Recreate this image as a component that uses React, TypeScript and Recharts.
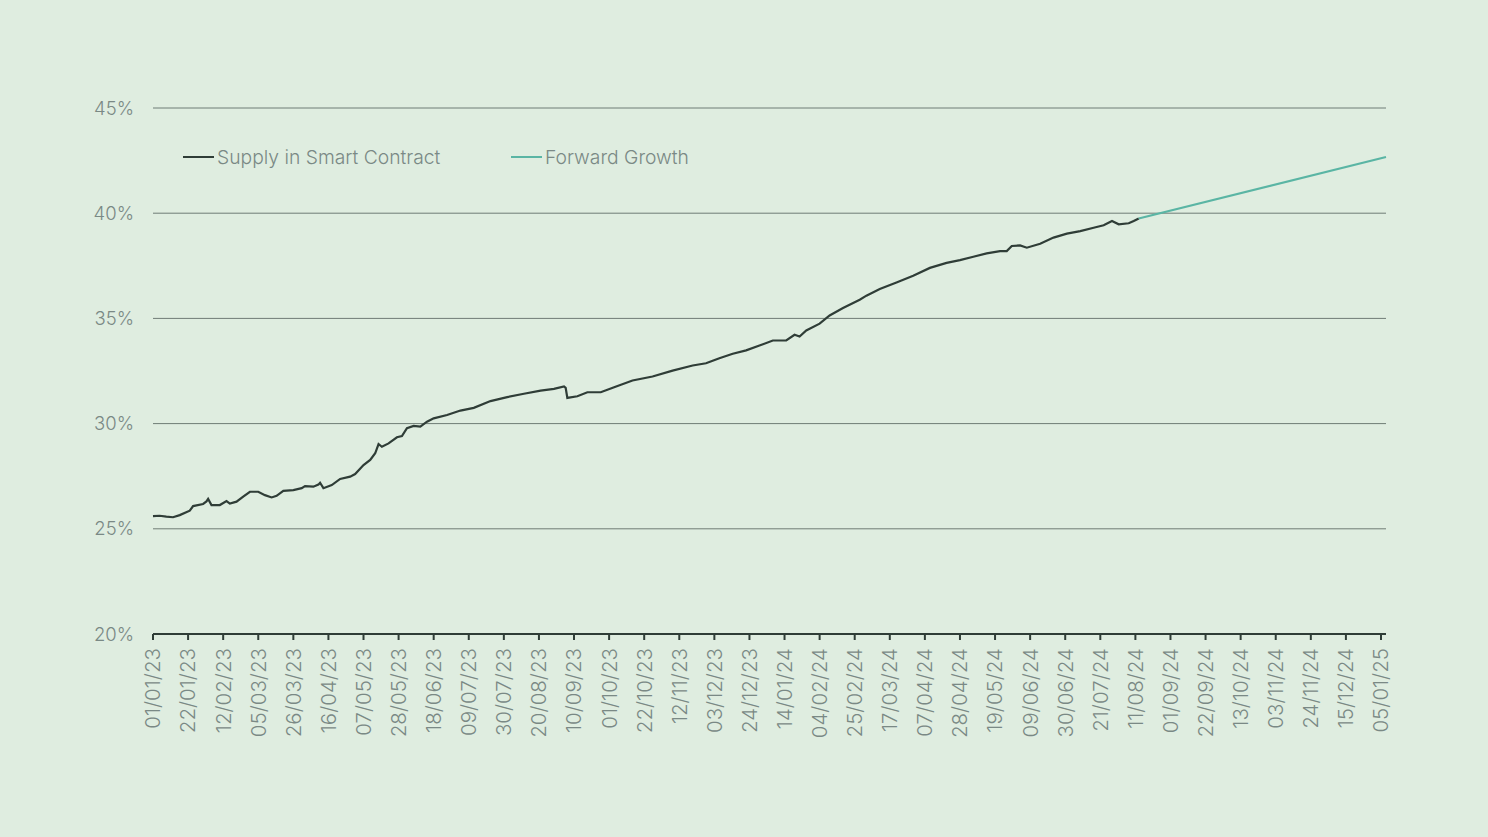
import React from 'react';
import { LineChart, Line, XAxis, YAxis, CartesianGrid } from 'recharts';

if (typeof document !== 'undefined') {
  document.body.style.margin = '0';
  document.body.style.background = '#dfede0';
}

const tickLabels = [
  '01/01/23', '22/01/23', '12/02/23', '05/03/23', '26/03/23', '16/04/23', '07/05/23', '28/05/23',
  '18/06/23', '09/07/23', '30/07/23', '20/08/23', '10/09/23', '01/10/23', '22/10/23', '12/11/23',
  '03/12/23', '24/12/23', '14/01/24', '04/02/24', '25/02/24', '17/03/24', '07/04/24', '28/04/24',
  '19/05/24', '09/06/24', '30/06/24', '21/07/24', '11/08/24', '01/09/24', '22/09/24', '13/10/24',
  '03/11/24', '24/11/24', '15/12/24', '05/01/25',
];

const yTicks = [20, 25, 30, 35, 40, 45];

// days since 01/01/23
const supplyDays = [
  0, 4, 8, 12, 16, 22, 24, 30, 32, 33, 35, 40, 44, 46, 50, 54, 58, 63, 67, 71, 74, 78, 84, 89, 91, 96,
  99, 100, 102, 107, 112, 118, 121, 126, 130, 133, 135, 137, 141, 146, 149, 152, 156, 160, 164, 168,
  176, 184, 192, 202, 212, 222, 232, 240, 246, 247, 248, 254, 260, 268, 276, 287, 299, 311, 323, 331,
  339, 347, 355, 363, 371, 379, 384, 387, 391, 399, 405, 413, 423, 427, 435, 445, 455, 465, 475, 483,
  491, 499, 507, 511, 514, 519, 523, 531, 539, 547, 555, 563, 569, 574, 578, 584, 587, 590,
];
const supplyValues = [
  25.6, 25.62, 25.58, 25.55, 25.65, 25.86, 26.08, 26.18, 26.3, 26.42, 26.13, 26.13, 26.32, 26.2, 26.29,
  26.53, 26.76, 26.76, 26.6, 26.49, 26.57, 26.8, 26.84, 26.93, 27.03, 27.0, 27.1, 27.19, 26.93, 27.08,
  27.37, 27.48, 27.6, 28.03, 28.27, 28.59, 29.03, 28.9, 29.06, 29.35, 29.41, 29.78, 29.89, 29.86, 30.09,
  30.25, 30.41, 30.62, 30.75, 31.07, 31.26, 31.42, 31.57, 31.65, 31.77, 31.7, 31.22, 31.3, 31.49, 31.49,
  31.73, 32.05, 32.24, 32.52, 32.76, 32.87, 33.11, 33.32, 33.48, 33.71, 33.95, 33.95, 34.22, 34.14,
  34.43, 34.75, 35.14, 35.49, 35.89, 36.08, 36.4, 36.71, 37.03, 37.4, 37.64, 37.77, 37.93, 38.09, 38.2,
  38.2, 38.44, 38.47, 38.36, 38.55, 38.84, 39.03, 39.15, 39.31, 39.43, 39.63, 39.47, 39.52, 39.63, 39.75,
];

const forwardDays = [590, 738];
const forwardValues = [39.75, 42.67];

const seriesNames = ['Supply in Smart Contract', 'Forward Growth'];
const seriesColors = ['#2f3d37', '#5ab5a4'];

const START = Date.UTC(2023, 0, 1);
const labelToDay = (s: string) => {
  const [d, m, y] = s.split('/').map(Number);
  return Math.round((Date.UTC(2000 + y, m - 1, d) - START) / 86400000);
};
const xTicks = tickLabels.map(labelToDay);
const dayToLabel: Record<number, string> = {};
tickLabels.forEach((l, i) => (dayToLabel[xTicks[i]] = l));

const supplyData = supplyDays.map((d, i) => ({ day: d, value: supplyValues[i] }));
const forwardData = forwardDays.map((d, i) => ({ day: d, value: forwardValues[i] }));

const FONT = 'Inter, "Noto Sans", sans-serif';
const TEXT = '#7a8985';

const XTick = (props: any) => {
  const { x, y, payload } = props;
  return (
    <text
      transform={`translate(${x},${y + 6}) rotate(-90)`}
      textAnchor="end"
      dy="0.36em"
      fontSize={20.5}
      fontFamily={FONT}
      fontWeight={300}
      fill={TEXT}
    >
      {dayToLabel[payload.value]}
    </text>
  );
};

const LegendOverlay = () => (
  <div
    style={{
      position: 'absolute',
      top: 146,
      left: 183,
      display: 'flex',
      fontFamily: FONT,
      fontWeight: 300,
      fontSize: 19.3,
      color: TEXT,
    }}
  >
    {seriesNames.map((n, i) => (
      <div key={n} style={{ display: 'flex', alignItems: 'center', width: i === 0 ? 328 : 'auto' }}>
        <div style={{ width: 31, height: 2.5, background: seriesColors[i], marginRight: 3 }} />
        <span style={{ lineHeight: '22px' }}>{n}</span>
      </div>
    ))}
  </div>
);

export default function App() {
  return (
    <div style={{ position: 'relative', width: 1488, height: 837, background: '#dfede0' }}>
      <LineChart width={1488} height={837} margin={{ top: 108, right: 102, bottom: 83, left: 0 }}>
        <CartesianGrid vertical={false} stroke="#6f7c76" strokeWidth={1} />
        <XAxis
          type="number"
          dataKey="day"
          domain={[0, 738]}
          ticks={xTicks}
          interval={0}
          height={120}
          tick={<XTick />}
          tickSize={6}
          tickMargin={2}
          stroke="#2f3d37"
          strokeWidth={2}
          tickLine={{ stroke: '#2f3d37', strokeWidth: 2 }}
        />
        <YAxis
          type="number"
          domain={[20, 45]}
          ticks={yTicks}
          width={153}
          axisLine={false}
          tickLine={false}
          tickSize={0}
          tickMargin={19}
          tickFormatter={(v: number) => `${v}%`}
          tick={{ fontSize: 18.5, fontFamily: FONT, fontWeight: 300, fill: TEXT }}
        />
        <Line
          data={supplyData}
          dataKey="value"
          name={seriesNames[0]}
          stroke={seriesColors[0]}
          strokeWidth={2.2}
          dot={false}
          isAnimationActive={false}
        />
        <Line
          data={forwardData}
          dataKey="value"
          name={seriesNames[1]}
          stroke={seriesColors[1]}
          strokeWidth={2.2}
          dot={false}
          isAnimationActive={false}
        />
      </LineChart>
      <LegendOverlay />
    </div>
  );
}
